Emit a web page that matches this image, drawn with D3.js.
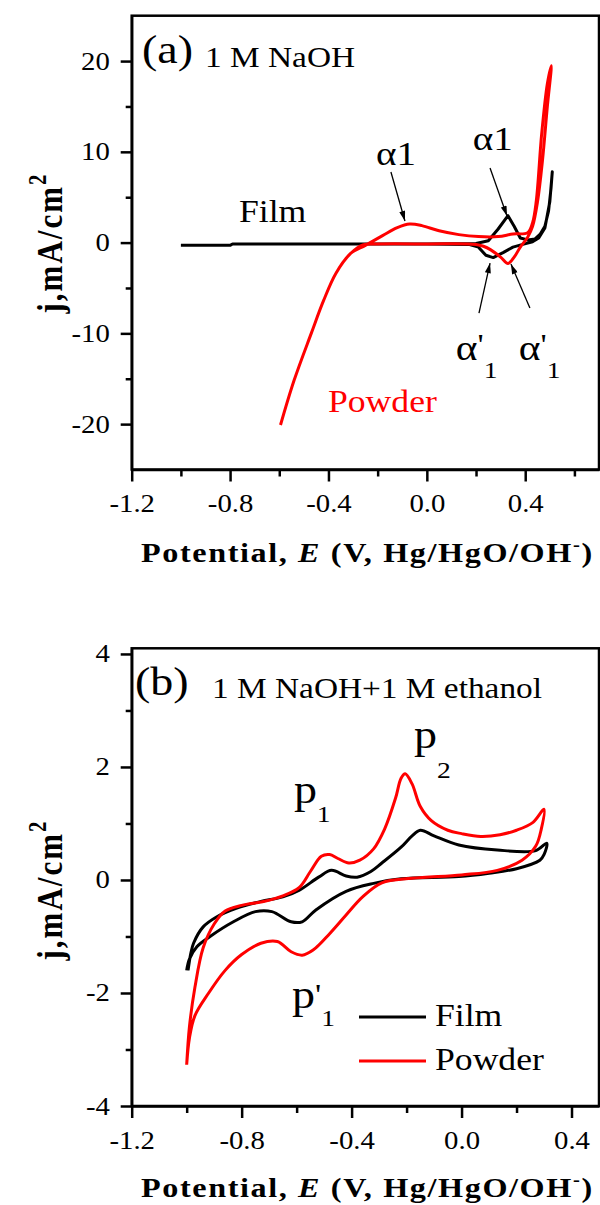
<!DOCTYPE html>
<html>
<head>
<meta charset="utf-8">
<script src="https://cdn.jsdelivr.net/npm/d3@7"></script>
<style>
  body { margin: 0; background: #fff; }
  svg { display: block; }
  text { font-family: "Liberation Serif", "Times New Roman", serif; }
</style>
</head>
<body>
<svg width="600" height="1205"></svg>
<script>
// ---- data: [E (V), j (mA/cm2)] ----
// (a) 1 M NaOH
const filmA = [[-1.0,-0.3],[-0.8,-0.3],[-0.79,-0.15],[0.0,-0.15],[0.2,-0.1],[0.25,0.2],[0.29,1.5],
  [0.33,2.97],[0.355,1.8],[0.38,0.5],[0.41,0.3],[0.44,0.4],[0.46,0.9],[0.48,1.8],[0.495,3.5],
  [0.505,6],[0.51,7.8],[0.5,4.5],[0.48,1.6],[0.455,0.5],[0.43,0.1],[0.39,-0.2],[0.35,-0.5],
  [0.31,-1.1],[0.27,-1.65],[0.24,-1.4],[0.21,-0.5],[0.17,-0.2],[0.0,-0.15],[-0.79,-0.15],
  [-0.8,-0.3],[-1.0,-0.3]];
const powderA = [[-0.595,-20.1],[-0.54,-15.2],[-0.47,-10],[-0.42,-6.4],[-0.37,-3.4],[-0.31,-1.2],
  [-0.25,-0.3],[-0.18,0.77],[-0.12,1.65],[-0.07,2.05],[-0.02,1.87],[0.05,1.3],[0.13,0.88],
  [0.21,0.66],[0.29,0.66],[0.35,0.95],[0.41,1.1],[0.43,2.2],[0.445,4.6],[0.467,12],[0.49,17.5],
  [0.506,19.5],[0.49,15],[0.47,9],[0.45,4.5],[0.43,1.8],[0.41,0.6],[0.38,-0.5],[0.355,-1.6],
  [0.33,-2.3],[0.3,-1.6],[0.26,-0.8],[0.23,-0.4],[0.2,-0.2],[0.0,-0.15],[-0.2,-0.15],
  [-0.26,-0.25],[-0.31,-1.2],[-0.37,-3.4],[-0.42,-6.4],[-0.47,-10],[-0.54,-15.2],[-0.595,-20.1]];

// (b) 1 M NaOH + 1 M ethanol
const filmB = [[-0.995,-1.6],[-0.985,-1.3],[-0.975,-1.12],[-0.94,-0.83],[-0.89,-0.65],[-0.82,-0.5],
  [-0.73,-0.38],[-0.65,-0.3],[-0.59,-0.18],[-0.52,0.05],[-0.473,0.17],[-0.42,0.07],[-0.38,0.05],
  [-0.33,0.15],[-0.29,0.3],[-0.22,0.58],[-0.18,0.78],[-0.15,0.88],[-0.1,0.78],[-0.01,0.62],
  [0.13,0.53],[0.27,0.52],[0.31,0.65],[0.3,0.45],[0.285,0.35],[0.2,0.2],[0.1,0.12],[-0.01,0.06],
  [-0.22,0.02],[-0.32,-0.06],[-0.42,-0.2],[-0.53,-0.53],[-0.58,-0.74],[-0.62,-0.74],[-0.69,-0.56],
  [-0.75,-0.56],[-0.83,-0.74],[-0.915,-1.0],[-0.963,-1.18],[-0.99,-1.4],[-1.0,-1.6]];
const powderB = [[-1.0,-3.27],[-0.99,-2.6],[-0.97,-1.9],[-0.94,-1.2],[-0.9,-0.78],[-0.86,-0.55],
  [-0.8,-0.45],[-0.72,-0.38],[-0.65,-0.28],[-0.59,-0.13],[-0.55,0.15],[-0.51,0.42],[-0.48,0.45],
  [-0.45,0.38],[-0.41,0.3],[-0.37,0.35],[-0.32,0.55],[-0.28,0.9],[-0.24,1.45],[-0.22,1.8],
  [-0.205,1.88],[-0.18,1.7],[-0.15,1.3],[-0.11,1.05],[-0.05,0.88],[0.0,0.82],[0.07,0.77],
  [0.14,0.8],[0.2,0.88],[0.26,1.02],[0.3,1.25],[0.29,0.9],[0.27,0.6],[0.22,0.35],[0.13,0.17],
  [0.0,0.09],[-0.18,0.03],[-0.29,-0.05],[-0.36,-0.3],[-0.42,-0.62],[-0.48,-0.95],[-0.54,-1.24],
  [-0.58,-1.33],[-0.62,-1.27],[-0.67,-1.09],[-0.73,-1.12],[-0.8,-1.32],[-0.86,-1.6],[-0.92,-2.0],
  [-0.97,-2.4],[-0.99,-2.8],[-1.0,-3.27]];

// ticks
const xTicksMajor = [-1.2, -0.8, -0.4, 0.0, 0.4];
const xTicksMinorA = [-1.0, -0.6, -0.2, 0.2, 0.6];
const xTicksMinorB = [-1.0, -0.6, -0.2, 0.2];
const yTicksA = [-20, -10, 0, 10, 20];
const yTicksMinorA = [-15, -5, 5, 15];
const yTicksB = [-4, -2, 0, 2, 4];
const yTicksMinorB = [-3, -1, 1, 3];

const SX = 1.15;   // the original figure is a bit stretched sideways
const svg = d3.select("svg");

svg.append("defs").append("marker")
    .attr("id", "arrow")
    .attr("viewBox", "0 0 10 6")
    .attr("refX", 10).attr("refY", 3)
    .attr("markerWidth", 11).attr("markerHeight", 6)
    .attr("markerUnits", "userSpaceOnUse")
    .attr("orient", "auto")
  .append("path")
    .attr("d", "M0,0L10,3L0,6Z")
    .attr("fill", "#000");

// text with optional tspans, squeezed the same way as the figure
function addText(g, x, y, size, pieces, opts = {}) {
  let t = g.append("text")
      .attr("transform", "translate(" + x + "," + y + ") scale(" + SX + ",1)")
      .attr("font-size", size)
      .attr("text-anchor", opts.anchor || "start")
      .attr("font-weight", opts.bold ? "bold" : null)
      .attr("letter-spacing", opts.spacing || null)
      .attr("fill", opts.color || "#000");
  pieces.forEach(function(p) {
    if (typeof p === "string") p = {t: p};
    t.append("tspan")
        .attr("dy", p.dy || null)
        .attr("font-size", p.size || null)
        .attr("font-style", p.italic ? "italic" : null)
        .text(p.t);
  });
  return t;
}

function drawPanel(cfg) {
  let x = cfg.x, y = cfg.y;
  let g = svg.append("g");
  let left = x.range()[0], right = x.range()[1];
  let top = y.range()[1], bottom = y.range()[0];

  // frame
  g.append("rect")
      .attr("x", left).attr("y", top)
      .attr("width", right - left).attr("height", bottom - top)
      .attr("fill", "none").attr("stroke", "#000").attr("stroke-width", 2.5);

  // x axis
  let xAxis = g.append("g")
      .attr("transform", "translate(0," + bottom + ")")
      .call(d3.axisBottom(x).tickValues(xTicksMajor).tickSize(12).tickSizeOuter(0)
        .tickPadding(13).tickFormat(d => d.toFixed(1)));
  g.append("g")
      .attr("transform", "translate(0," + bottom + ")")
      .call(d3.axisBottom(x).tickValues(cfg.xMinor).tickSize(7).tickFormat(""))
      .select(".domain").remove();

  // y axis
  let yAxis = g.append("g")
      .attr("transform", "translate(" + left + ",0)")
      .call(d3.axisLeft(y).tickValues(cfg.yTicks).tickSize(11).tickSizeOuter(0)
        .tickPadding(8).tickFormat(d => String(d)));
  g.append("g")
      .attr("transform", "translate(" + left + ",0)")
      .call(d3.axisLeft(y).tickValues(cfg.yMinor).tickSize(6).tickFormat(""))
      .select(".domain").remove();

  g.selectAll(".tick line, .domain").attr("stroke-width", 2.5);
  [xAxis, yAxis].forEach(a => a.selectAll("text")
      .attr("font-size", 25)
      .attr("fill", "#000")
      .attr("transform", "scale(" + SX + ",1)"));

  // axis titles
  addText(g, (left + right) / 2 + 2, cfg.xTitleY, 28,
      ["Potential, ", {t: "E", italic: true}, {t: " (V, Hg/HgO/OH"},
       {t: "-", dy: -11, size: 18}, {t: ")", dy: 11}],
      {anchor: "middle", bold: true, spacing: 1.4});

  g.append("text")
      .attr("transform", "translate(62," + cfg.yTitleY + ") rotate(-90) scale(1," + SX + ")")
      .attr("text-anchor", "middle")
      .attr("font-size", 31)
      .attr("font-weight", "bold")
      .attr("letter-spacing", 2)
      .call(t => {
        t.append("tspan").text("j,mA/cm");
        t.append("tspan").attr("dy", -14).attr("font-size", 21).text("2");
      });

  // curves
  cfg.series.forEach(function(s) {
    let line = d3.line().x(d => x(d[0])).y(d => y(d[1]))
        .curve(s.smooth ? d3.curveCatmullRom.alpha(0.5) : d3.curveLinear);
    g.append("path")
        .datum(s.data)
        .attr("fill", "none")
        .attr("stroke", s.color)
        .attr("stroke-width", 3)
        .attr("stroke-linejoin", "round")
        .attr("d", line);
  });
  return g;
}

// ---------- panel (a) ----------
let xa = d3.scaleLinear().domain([-1.2, 0.7]).range([131.7, 599]);
let ya = d3.scaleLinear().domain([-25, 25]).range([469.5, 15.7]);
let ga = drawPanel({
  x: xa, y: ya, xMinor: xTicksMinorA, yTicks: yTicksA, yMinor: yTicksMinorA,
  xTitleY: 562, yTitleY: 243,
  series: [{data: filmA, color: "#000", smooth: false},
           {data: powderA, color: "#ff0000", smooth: true}]
});

addText(ga, 142, 63, 40, ["(a)"]);
addText(ga, 205, 67, 29, ["1 M NaOH"]);
addText(ga, xa(-0.764), ya(2.27), 31, ["Film"]);
addText(ga, xa(-0.402), ya(-18.7), 31, ["Powder"], {color: "#ff0000"});
addText(ga, xa(-0.207), ya(8.55), 34, ["α1"]);
addText(ga, xa(0.187), ya(10.2), 34, ["α1"]);
[0.118, 0.374].forEach(e => addText(ga, xa(e), ya(-12.9), 36,
    ["α", {t: "'", dy: -6, size: 30}, {t: "1", dy: 24, size: 24}]));

let arrowsA = [
  {from: [-0.146, 7.78], to: [-0.089, 2.38]},
  {from: [0.257, 8.22], to: [0.326, 2.93]},
  {from: [0.212, -7.76], to: [0.257, -2.25]},
  {from: [0.419, -7.21], to: [0.342, -2.36]}
];
ga.selectAll(".arrow")
  .data(arrowsA)
  .enter().append("line")
    .attr("class", "arrow")
    .attr("x1", d => xa(d.from[0])).attr("y1", d => ya(d.from[1]))
    .attr("x2", d => xa(d.to[0])).attr("y2", d => ya(d.to[1]))
    .attr("stroke", "#000").attr("stroke-width", 1.3)
    .attr("marker-end", "url(#arrow)");

// ---------- panel (b) ----------
let xb = d3.scaleLinear().domain([-1.2, 0.5]).range([131.7, 599]);
let yb = d3.scaleLinear().domain([-4, 4.1]).range([1106, 648.3]);
let gb = drawPanel({
  x: xb, y: yb, xMinor: xTicksMinorB, yTicks: yTicksB, yMinor: yTicksMinorB,
  xTitleY: 1197, yTitleY: 890,
  series: [{data: filmB, color: "#000", smooth: true},
           {data: powderB, color: "#ff0000", smooth: true}]
});

addText(gb, 135, 695, 40, ["(b)"]);
addText(gb, 212, 698, 29, ["1 M NaOH+1 M ethanol"]);
addText(gb, xb(-0.173), yb(2.34), 40, ["p", {t: "2", dy: 30, size: 24}]);
addText(gb, xb(-0.61), yb(1.36), 40, ["p", {t: "1", dy: 19, size: 24}]);
addText(gb, xb(-0.617), yb(-2.27), 40, ["p", {t: "'", dy: -4, size: 30}, {t: "1", dy: 22, size: 24}]);

// legend
let legend = [{name: "Film", color: "#000"}, {name: "Powder", color: "#ff0000"}];
legend.forEach(function(d, i) {
  let yy = 1017 + i * 44;
  gb.append("line")
      .attr("x1", 359).attr("x2", 426).attr("y1", yy).attr("y2", yy)
      .attr("stroke", d.color).attr("stroke-width", 3);
  addText(gb, 435, yy + 9, 31, [d.name]);
});
</script>
</body>
</html>
